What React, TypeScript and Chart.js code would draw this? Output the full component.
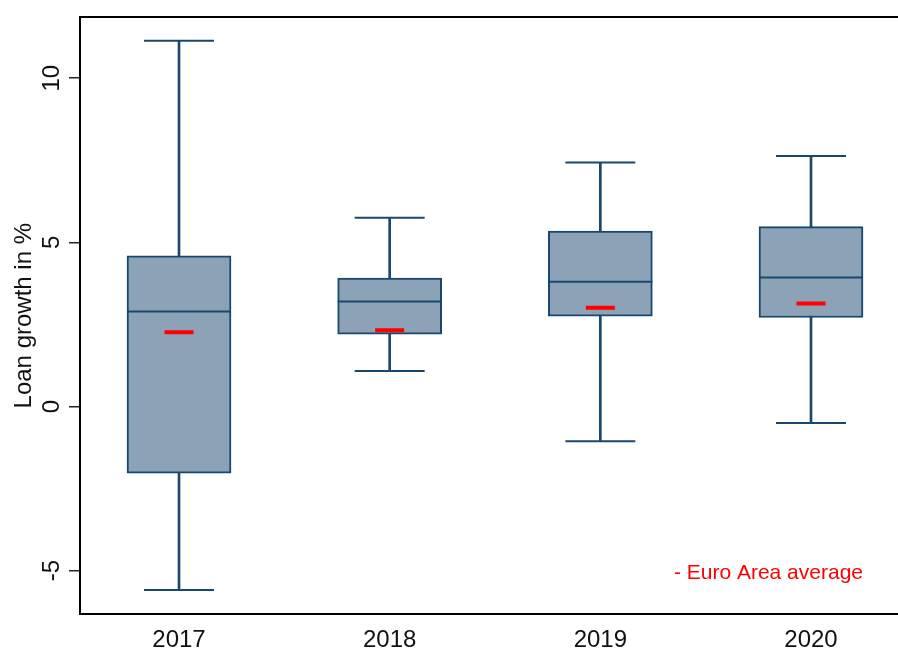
import React, { useEffect, useRef } from "react";
import { Chart, registerables } from "chart.js";

Chart.register(...registerables);

const years = [2017, 2018, 2019, 2020];
const whiskerLow = [-5.59, 1.08, -1.06, -0.5];
const q1 = [-2.03, 2.2, 2.75, 2.71];
const median = [2.89, 3.2, 3.8, 3.93];
const q3 = [4.59, 3.91, 5.34, 5.48];
const whiskerHigh = [11.14, 5.75, 7.43, 7.63];
const euroAreaMean = [2.26, 2.32, 3.01, 3.14];
const yTicks = [-5, 0, 5, 10];
const yTitle = "Loan growth in %";
const noteText = "- Euro Area average";

const NAVY = "#1a476f";
const FILL = "#8ca3b7";
const FONT = 'Arial, "Liberation Sans", sans-serif';

const notePlugin = {
  id: "note",
  afterDraw(chart: any) {
    const { ctx, chartArea } = chart;
    ctx.save();
    ctx.font = `21px ${FONT}`;
    ctx.fillStyle = "#ff0000";
    ctx.textAlign = "right";
    ctx.textBaseline = "alphabetic";
    ctx.fillText(noteText, chartArea.right - 35, chartArea.bottom - 35);
    ctx.restore();
  },
};

export default function App() {
  const ref = useRef<HTMLCanvasElement | null>(null);
  useEffect(() => {
    if (!ref.current) return;
    const caps = years.flatMap((x, i) => [
      { x, y: whiskerLow[i] },
      { x, y: whiskerHigh[i] },
    ]);
    const chart = new Chart(ref.current, {
      type: "bar",
      data: {
        datasets: [
          {
            type: "scatter",
            data: years.map((x, i) => ({ x, y: euroAreaMean[i] })),
            pointStyle: "line",
            radius: 14.5,
            borderColor: "#ff0000",
            borderWidth: 4,
            order: 1,
          } as any,
          {
            type: "scatter",
            data: years.map((x, i) => ({ x, y: median[i] })),
            pointStyle: "line",
            radius: 52,
            borderColor: NAVY,
            borderWidth: 2,
            order: 2,
          } as any,
          {
            type: "scatter",
            data: caps,
            pointStyle: "line",
            radius: 35,
            borderColor: NAVY,
            borderWidth: 2,
            order: 3,
          } as any,
          {
            type: "bar",
            data: years.map((x, i) => ({ x, y: [q1[i], q3[i]] })),
            backgroundColor: FILL,
            borderColor: NAVY,
            borderWidth: 2,
            borderSkipped: false,
            barThickness: 104,
            grouped: false,
            order: 4,
          } as any,
          {
            type: "bar",
            data: years.map((x, i) => ({ x, y: [whiskerLow[i], whiskerHigh[i]] })),
            backgroundColor: NAVY,
            borderWidth: 0,
            barThickness: 2,
            grouped: false,
            order: 5,
          } as any,
        ],
      },
      options: {
        responsive: false,
        animation: false,
        events: [],
        layout: { autoPadding: false, padding: { top: 13, left: 0, right: 0, bottom: 0 } },
        plugins: {
          legend: { display: false },
          tooltip: { enabled: false },
        },
        scales: {
          x: {
            type: "linear",
            position: "bottom",
            min: 2016.53,
            max: 2020.413,
            offset: false,
            afterBuildTicks: (s: any) => {
              s.ticks = years.map((v) => ({ value: v }));
            },
            afterFit: (s: any) => {
              s.height = 40;
            },
            grid: { display: false, drawTicks: false, tickLength: 0 },
            border: { display: true, color: "#000", width: 2 },
            ticks: {
              padding: 12,
              color: "#111",
              font: { family: FONT, size: 24 },
              callback: (v: any) => String(v),
              maxRotation: 0,
              minRotation: 0,
            },
          },
          x2: {
            type: "linear",
            position: "top",
            min: 2016.53,
            max: 2020.413,
            afterFit: (s: any) => {
              s.height = 0;
            },
            grid: { display: false, drawTicks: false },
            border: { display: true, color: "#000", width: 2 },
            ticks: { display: false },
          },
          y: {
            type: "linear",
            position: "left",
            min: -6.32,
            max: 11.85,
            afterBuildTicks: (s: any) => {
              s.ticks = yTicks.map((v) => ({ value: v }));
            },
            afterFit: (s: any) => {
              s.width = 80;
            },
            grid: {
              display: true,
              drawOnChartArea: false,
              drawTicks: true,
              tickLength: 11,
              color: "#222",
              lineWidth: 1.5,
            },
            border: { display: true, color: "#000", width: 2 },
            ticks: {
              padding: 3,
              color: "#111",
              font: { family: FONT, size: 24 },
              minRotation: 90,
              maxRotation: 90,
              crossAlign: "center",
              callback: (v: any) => String(v),
            },
            title: {
              display: true,
              text: yTitle,
              color: "#111",
              font: { family: FONT, size: 24 },
              padding: { top: 10, bottom: 0 },
            },
          },
        },
      } as any,
      plugins: [notePlugin],
    });
    return () => chart.destroy();
  }, []);
  return (
    <div style={{ position: "absolute", left: 0, top: 0, width: 898, height: 654, background: "#fff" }}>
      <canvas ref={ref} width={898} height={654} />
    </div>
  );
}
